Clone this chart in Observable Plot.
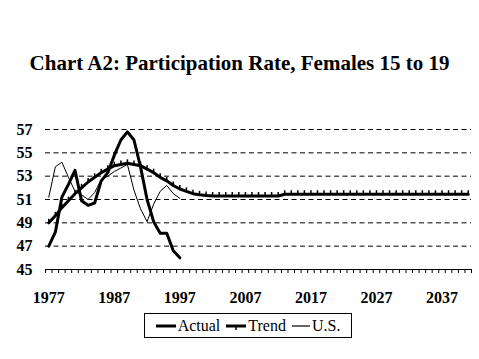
<!DOCTYPE html>
<html>
<head>
<meta charset="utf-8">
<script src="https://cdn.jsdelivr.net/npm/d3@7"></script>
<script src="https://cdn.jsdelivr.net/npm/@observablehq/plot@0.6"></script>
<style>
  html, body { margin: 0; padding: 0; background: #fff; }
  #wrap { position: relative; width: 479px; height: 359px; font-family: "Liberation Serif", "DejaVu Serif", serif; }
  #title { position: absolute; left: 0; width: 479px; top: 51px; text-align: center; font-weight: bold; font-size: 21px; color: #000; font-family: "Liberation Serif", "DejaVu Serif", serif; }
  #chart { position: absolute; left: 0; top: 0; }
  #legend { position: absolute; left: 144px; top: 313px; width: 208px; height: 25px; border: 1px solid #000; box-sizing: border-box;
            display: flex; align-items: center; justify-content: center; font-size: 16px; color: #000; white-space: nowrap; }
  .item { display: inline-flex; align-items: center; margin: 0 3px; }
  .item svg { margin-right: 2px; }
</style>
</head>
<body>
<div id="wrap">
  <div id="chart"></div>
  <div id="title">Chart A2: Participation Rate, Females 15 to 19</div>
  <div id="legend">
    <span class="item"><svg width="20" height="10"><line x1="0" y1="5" x2="20" y2="5" stroke="#000" stroke-width="3"/></svg>Actual</span>
    <span class="item"><svg width="20" height="10"><line x1="0" y1="5" x2="20" y2="5" stroke="#000" stroke-width="3"/><line x1="10" y1="5" x2="10" y2="9" stroke="#000" stroke-width="1.5"/></svg>Trend</span>
    <span class="item"><svg width="18" height="10"><line x1="0" y1="5" x2="18" y2="5" stroke="#000" stroke-width="1.2"/></svg>U.S.</span>
  </div>
</div>
<script>
const firstYear = 1977;
const actual = [47.0, 48.2, 51.2, 52.3, 53.5, 50.9, 50.5, 50.7, 52.6, 53.3, 54.8, 56.1, 56.8, 56.1, 53.8, 51.0, 49.1, 48.1, 48.1, 46.6, 46.0];
const trend = [49.0, 49.6, 50.3, 50.9, 51.5, 52.0, 52.5, 52.9, 53.3, 53.6,
               53.9, 54.0, 54.1, 54.0, 53.9, 53.6, 53.3, 52.9, 52.6, 52.2,
               51.9, 51.7, 51.5, 51.4, 51.35, 51.3, 51.3, 51.3, 51.3, 51.3,
               51.3, 51.3, 51.3, 51.3, 51.3, 51.3, 51.45, 51.45, 51.45, 51.45,
               51.45, 51.45, 51.45, 51.45, 51.45, 51.45, 51.45, 51.45, 51.45, 51.45,
               51.45, 51.45, 51.45, 51.45, 51.45, 51.45, 51.45, 51.45, 51.45, 51.45,
               51.45, 51.45, 51.45, 51.45, 51.45];
const us = [51.2, 53.8, 54.2, 52.9, 51.7, 51.4, 51.0, 51.6, 52.7, 53.0, 53.4, 53.7, 54.0, 51.8, 50.2, 49.1, 50.6, 51.7, 52.2, 51.5, 51.1];
const xTickLabels = [1977, 1987, 1997, 2007, 2017, 2027, 2037];
const yTicks = [45, 47, 49, 51, 53, 55, 57];

const toRows = arr => arr.map((v, i) => ({year: firstYear + i, v}));
const actualRows = toRows(actual);
const trendRows = toRows(trend);
const usRows = toRows(us);
const lastYear = firstYear + trend.length - 1;
const boundaries = d3.range(firstYear - 0.5, lastYear + 1, 1);

const chart = Plot.plot({
  width: 479,
  height: 359,
  marginLeft: 45,
  marginRight: 8,
  marginTop: 129,
  marginBottom: 90,
  style: {fontFamily: "'Liberation Serif', 'DejaVu Serif', serif", background: "transparent"},
  x: {domain: [firstYear - 0.5, lastYear + 0.5], label: null},
  y: {domain: [45, 57], label: null},
  marks: [
    Plot.ruleY(yTicks.filter(d => d > 45), {stroke: "#000", strokeWidth: 1, strokeDasharray: "5,3.5"}),
    Plot.ruleY([45], {stroke: "#000", strokeWidth: 1}),
    Plot.axisX(boundaries, {tickSize: 4, tickFormat: () => "", label: null, stroke: "#000", strokeOpacity: 1, strokeWidth: 1}),
    Plot.axisX(xTickLabels, {tickSize: 0, tickPadding: 22, label: null, tickFormat: d => String(d), fontSize: 16, fontWeight: "bold", fill: "#000"}),
    Plot.axisY(yTicks, {tickSize: 0, tickPadding: 13, label: null, fontSize: 16, fontWeight: "bold", fill: "#000"}),
    Plot.line(usRows, {x: "year", y: "v", stroke: "#000", strokeWidth: 1}),
    Plot.line(trendRows, {x: "year", y: "v", stroke: "#000", strokeWidth: 3}),
    Plot.ruleX(trendRows, {x: "year", y1: "v", y2: d => d.v + 0.3, stroke: "#000", strokeWidth: 1.5}),
    Plot.line(actualRows, {x: "year", y: "v", stroke: "#000", strokeWidth: 3})
  ]
});
document.getElementById("chart").appendChild(chart);
</script>
</body>
</html>
